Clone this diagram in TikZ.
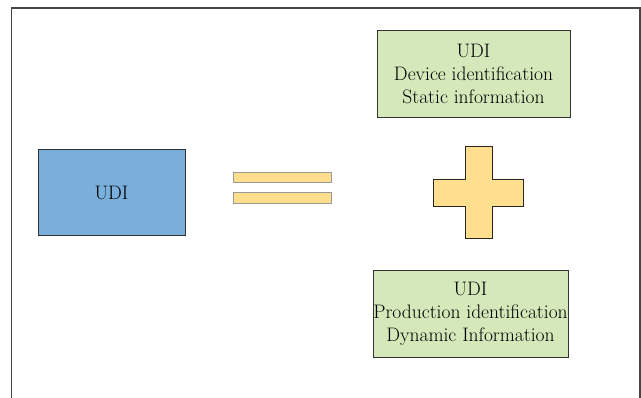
\documentclass[tikz,border=0pt]{standalone}
\usepackage{tikz}
\definecolor{udiblue}{RGB}{122,175,220}
\definecolor{udigreen}{RGB}{213,232,186}
\definecolor{udiyellow}{RGB}{255,223,142}
\definecolor{framegray}{RGB}{70,70,70}
\begin{document}
\begin{tikzpicture}[x=1pt,y=-1pt,
  box/.style={draw=black!80,line width=0.9pt,inner sep=0pt,align=center,
    font=\fontsize{19.5}{23}\selectfont,text=black},
  bar/.style={draw=black!40,line width=0.9pt,fill=udiyellow,inner sep=0pt,
    minimum width=98pt,minimum height=10.5pt},
]
\useasboundingbox (0,0) rectangle (641,398);
\draw[framegray,line width=1.2pt] (11.5,420) -- (11.5,8) -- (640,8) -- (640,420);
\node[box,fill=udiblue,minimum width=147pt,minimum height=86.5pt] (udi) at (111.5,192.5) {UDI};
\node[bar] (bar1) at (282,177.5) {};
\node[bar] (bar2) at (282,198) {};
\draw[black!85,line width=0.9pt,fill=udiyellow]
  (465,146) -- (492,146) -- (492,179) -- (523,179) -- (523,206) -- (492,206)
  -- (492,238) -- (465,238) -- (465,206) -- (433,206) -- (433,179) -- (465,179) -- cycle;
\node[box,fill=udigreen,minimum width=193pt,minimum height=87pt] (dev) at (473.5,73.5)
  {UDI\\Device identification\\Static information};
\node[box,fill=udigreen,minimum width=195pt,minimum height=87pt] (prod) at (470.5,313.5)
  {UDI\\Production identification\\Dynamic Information};
\end{tikzpicture}
\end{document}
